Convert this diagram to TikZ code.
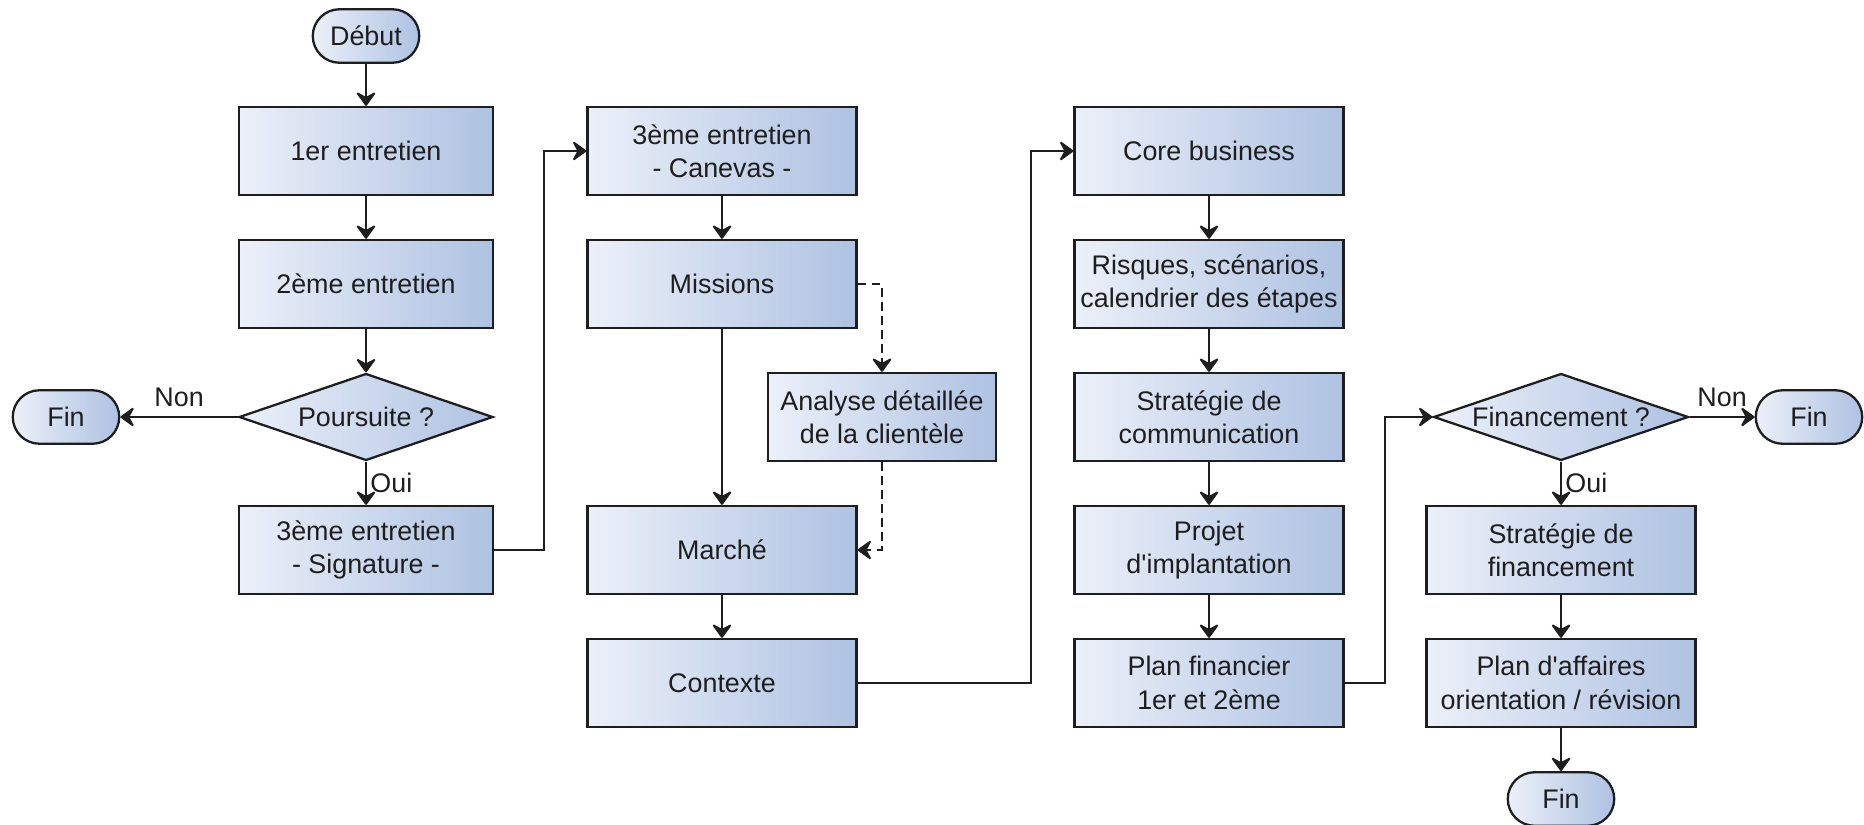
\documentclass[tikz,border=0pt]{standalone}
\usepackage{fontspec}
\setmainfont{Liberation Sans}
\usepackage{tikz}
\usetikzlibrary{arrows.meta, shapes.geometric, shapes.misc}

\definecolor{boxL}{RGB}{236,240,249}
\definecolor{boxR}{RGB}{174,194,226}
\definecolor{ink}{RGB}{30,30,30}

\tikzset{
    etape/.style={draw=ink, line width=1.3pt, left color=boxL, right color=boxR,
        minimum width=5.38cm, minimum height=1.76cm, inner sep=1pt, align=center,
        text=ink, font=\fontsize{15.3}{19}\selectfont},
    decision/.style={etape, diamond, shape aspect=2.9, inner sep=0pt,
        minimum width=5.1cm, minimum height=1.74cm},
    terminal/.style={etape, rounded rectangle, minimum width=2.2cm, minimum height=1.07cm},
    lien/.style={draw=ink, line width=1.1pt, -{Stealth[length=9pt,width=13pt,inset=3.5pt,round]}},
    etiquette/.style={text=ink, font=\fontsize{15.3}{19}\selectfont, inner sep=2pt}
}

\begin{document}
\begin{tikzpicture}[x=0.02cm, y=-0.02cm]
    \useasboundingbox (0,0) rectangle (1864,825);

    % Premiers entretiens
    \node[terminal] (debut) at (366,36) {Début};
    \node[etape, minimum width=5.08cm] (entretienA) at (366,151) {1er entretien};
    \node[etape, minimum width=5.08cm] (entretienB) at (366,284) {2ème entretien};
    \node[decision, minimum width=5.08cm] (poursuite) at (366,417) {Poursuite ?};
    \node[etape, minimum width=5.08cm] (signature) at (366,550) {3ème entretien\\- Signature -};
    \node[terminal] (finA) at (66,417) {Fin};

    % Canevas
    \node[etape] (canevas) at (722,151) {3ème entretien\\- Canevas -};
    \node[etape] (missions) at (722,284) {Missions};
    \node[etape, minimum width=4.56cm] (analyse) at (882,417) {Analyse détaillée\\de la clientèle};
    \node[etape] (marche) at (722,550) {Marché};
    \node[etape] (contexte) at (722,683) {Contexte};

    % Projet
    \node[etape] (core) at (1209,151) {Core business};
    \node[etape] (risques) at (1209,284) {Risques, scénarios,\\calendrier des étapes};
    \node[etape] (communication) at (1209,417) {Stratégie de\\communication};
    \node[etape] (implantation) at (1209,550) {Projet\\d\textquotesingle implantation};
    \node[etape] (planfin) at (1209,683) {Plan financier\\1er et 2ème};

    % Financement
    \node[decision] (financement) at (1561,417) {Financement ?};
    \node[terminal] (finB) at (1809,417) {Fin};
    \node[etape] (strategie) at (1561,550) {Stratégie de\\financement};
    \node[etape] (affaires) at (1561,683) {Plan d\textquotesingle affaires\\orientation / révision};
    \node[terminal] (finC) at (1561,799) {Fin};

    \coordinate (coudeA) at (544,0);
    \coordinate (coudeB) at (1031,0);
    \coordinate (coudeC) at (1385,0);

    % Liens
    \draw[lien] (debut) -- (entretienA);
    \draw[lien] (entretienA) -- (entretienB);
    \draw[lien] (entretienB) -- (poursuite);
    \draw[lien] (poursuite) -- node[etiquette, above=3pt] {Non} (finA);
    \draw[lien] (poursuite) -- node[etiquette, right] {Oui} (signature);
    \draw[lien] (signature.east) -- (signature.east -| coudeA) |- (canevas.west);

    \draw[lien] (canevas) -- (missions);
    \draw[lien] (missions) -- (marche);
    \draw[lien, dash pattern=on 5pt off 3pt] (missions.east) -| (analyse.north);
    \draw[lien, dash pattern=on 5pt off 3pt] (analyse.south) |- (marche.east);
    \draw[lien] (marche) -- (contexte);
    \draw[lien] (contexte.east) -- (contexte.east -| coudeB) |- (core.west);

    \draw[lien] (core) -- (risques);
    \draw[lien] (risques) -- (communication);
    \draw[lien] (communication) -- (implantation);
    \draw[lien] (implantation) -- (planfin);
    \draw[lien] (planfin.east) -- (planfin.east -| coudeC) |- (financement.west);

    \draw[lien] (financement) -- node[etiquette, above=3pt] {Non} (finB);
    \draw[lien] (financement) -- node[etiquette, right] {Oui} (strategie);
    \draw[lien] (strategie) -- (affaires);
    \draw[lien] (affaires) -- (finC);
\end{tikzpicture}
\end{document}
